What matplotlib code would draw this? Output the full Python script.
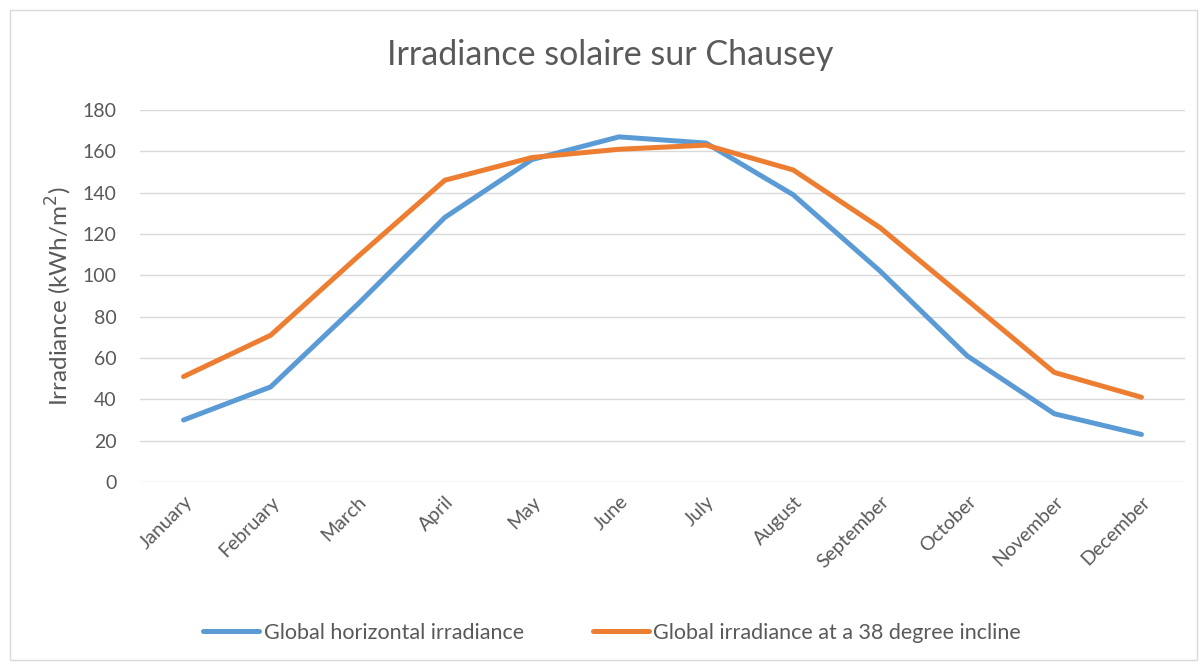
import matplotlib
matplotlib.use("Agg")
import matplotlib.pyplot as plt
from matplotlib.patches import Rectangle

months = ["January", "February", "March", "April", "May", "June", "July",
          "August", "September", "October", "November", "December"]
horizontal = [30, 46, 86, 128, 156, 167, 164, 139, 102, 61, 33, 23]
incline38 = [51, 71, 109, 146, 157, 161, 163, 151, 123, 88, 53, 41]
yticks = [0, 20, 40, 60, 80, 100, 120, 140, 160, 180]

plt.rcParams['font.family'] = ['Lato', 'DejaVu Sans']
txt = '#595959'

W, H = 1201, 666
fig = plt.figure(figsize=(W/100, H/100), dpi=100)
fig.patches.append(Rectangle((10/W, 6/H), 1187/W, 650/H, transform=fig.transFigure,
                             fill=False, edgecolor='#D9D9D9', linewidth=1))

ax = fig.add_axes([140/W, 1 - 482/H, (1185-140)/W, (482-110)/H])
x = list(range(len(months)))
ax.plot(x, horizontal, color='#5B9BD5', lw=3.6, solid_capstyle='round',
        solid_joinstyle='round', label='Global horizontal irradiance')
ax.plot(x, incline38, color='#ED7D31', lw=3.6, solid_capstyle='round',
        solid_joinstyle='round', label='Global irradiance at a 38 degree incline')
ax.set_xlim(-0.5, 11.5)
ax.set_ylim(0, 180)
ax.set_yticks(yticks)
ax.grid(axis='y', color='#D9D9D9', lw=1)
ax.set_axisbelow(True)
for s in ax.spines.values():
    s.set_visible(False)
ax.tick_params(axis='both', length=0, colors=txt)
ax.tick_params(axis='y', pad=17, labelsize=14)
ax.set_xticks(x)
ax.set_xticklabels(months, rotation=45, ha='right', rotation_mode='anchor')
ax.tick_params(axis='x', pad=8, labelsize=14)
ax.set_ylabel('Irradiance (kWh/m$^2$)', color=txt, fontsize=17.5, labelpad=6)

fig.text(610/W, 1 - 55/H, 'Irradiance solaire sur Chausey', ha='center', va='center',
         fontsize=24.5, color=txt)

fig.legend(loc='center', bbox_to_anchor=(612/W, 1 - 633/H), ncol=2, frameon=False,
           fontsize=15.5, labelcolor=txt, handlelength=2.6, handletextpad=0.2,
           columnspacing=3.2)

fig.savefig('out.png', dpi=100)
